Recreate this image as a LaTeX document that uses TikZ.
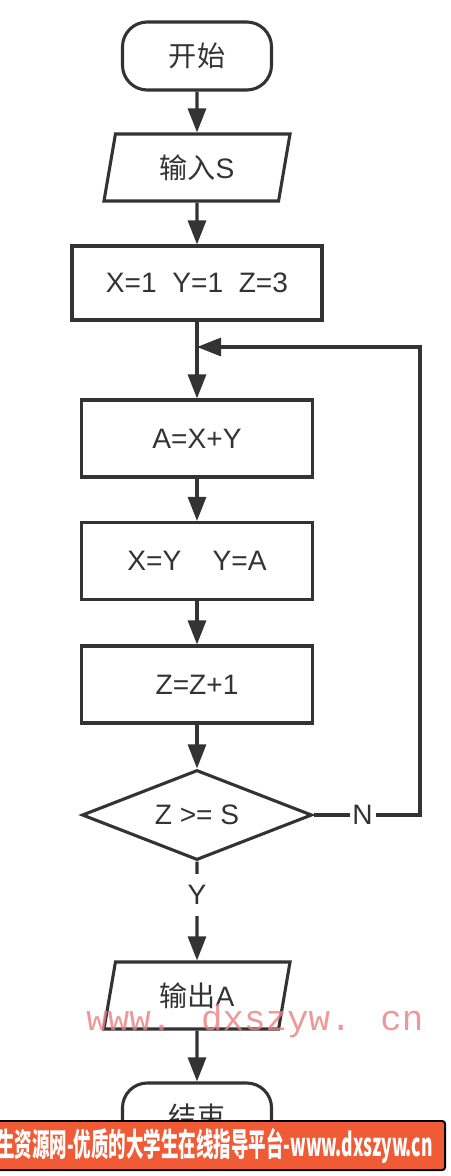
\documentclass[tikz,border=0pt]{standalone}
\usepackage{fontspec}
\setmainfont{Liberation Sans}
\newfontfamily\cjk{Noto Sans CJK SC}
\newfontfamily\markfont{Liberation Mono}
\usepackage{tikz}
\usetikzlibrary{shapes.geometric, arrows.meta}
\definecolor{ink}{HTML}{333333}
\definecolor{adred}{HTML}{F05A35}
\definecolor{markred}{HTML}{E88080}

\begin{document}
\begin{tikzpicture}[
		x=0.025cm, y=-0.025cm,
		every node/.style={text=ink, font=\fontsize{20}{24}\selectfont},
		line/.style={draw=ink, line width=2.2pt},
		arrow/.style={line, -{Triangle[length=0.6cm, width=0.45cm]}},
		terminal/.style={line, rectangle, rounded corners=0.62cm, minimum width=3.725cm, minimum height=1.7cm},
		io/.style={line, trapezium, trapezium left angle=72, trapezium right angle=108,
			trapezium stretches body, minimum width=4.65cm, minimum height=1.675cm},
		process/.style={line, rectangle, minimum width=5.775cm, minimum height=1.925cm},
		decision/.style={line, diamond, aspect=2.6, inner sep=0pt, minimum width=5.75cm, minimum height=2.25cm},
		lbl/.style={fill=white, inner sep=2pt}
	]
  \useasboundingbox (0, 0) rectangle (450, 1176);
  \node (start) [terminal] at (197, 56) {\cjk 开始};
  \node (input) [io] at (197, 167.5) {\cjk 输入\rmfamily S};
  \node (init) [process, minimum width=6.25cm, minimum height=1.85cm] at (197, 283) {X=1\ \ Y=1\ \ Z=3};
  \coordinate (merge) at (197, 347);
  \node (add) [process] at (197, 438.5) {A=X+Y};
  \node (swap) [process] at (197, 561) {X=Y\ \ \ \ Y=A};
  \node (incr) [process] at (197, 684.5) {Z=Z+1};
  \node (test) [decision] at (197, 815) {Z >= S};
  \coordinate (turn) at (420, 815);
  \node (output) [io] at (197, 995.5) {\cjk 输出\rmfamily A};
  \node (stop) [terminal] at (197, 1117) {\cjk 结束};
  \draw [arrow] (start) -- (input);
  \draw [arrow] (input) -- (init);
  \draw [arrow] (init) -- (add);
  \draw [arrow] (add) -- (swap);
  \draw [arrow] (swap) -- (incr);
  \draw [arrow] (incr) -- (test);
  \draw [arrow] (test) -- node [lbl, pos=0.34, inner ysep=8pt] {Y} (output);
  \draw [arrow] (output) -- (stop);
  \draw [arrow] (test.east) -- node [lbl, pos=0.46] {N} (turn) |- (merge);
  % site watermark and banner
  \node (mark) [anchor=base west, inner sep=0pt, text=markred, text opacity=0.8,
  	font=\markfont\fontsize{25.5}{30}\selectfont] at (86, 1030) {www. dxszyw. cn};
  \begin{scope}
    \clip (0, 0) rectangle (450, 1176);
    \node (ad) [draw=black, line width=1.4pt, fill=adred, rounded corners=2pt,
    	minimum width=11.625cm, minimum height=1.225cm] at (212.5, 1145.5) {};
    \node (adtext) [anchor=east, inner sep=0pt, text=white,
    	font=\cjk\bfseries\fontsize{22.8}{24}\selectfont] at (433, 1146)
    	{\scalebox{0.545}[1]{生资源网-优质的大学生在线指导平台-www.dxszyw.cn}};
  \end{scope}
\end{tikzpicture}
\end{document}
